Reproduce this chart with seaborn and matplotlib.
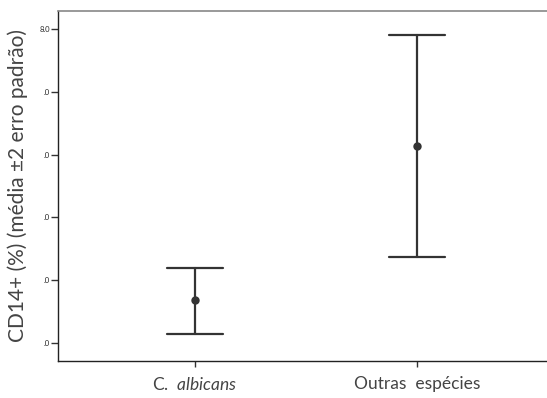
import matplotlib
matplotlib.use("Agg")
import matplotlib.pyplot as plt
import seaborn as sns
import pandas as pd
import numpy as np

categorias = ["C. albicans", "Outras espécies"]
medias = [3.69, 6.14]
limite_inferior = [3.14, 4.37]
limite_superior = [4.19, 7.90]
ytick_vals = [3.0, 4.0, 5.0, 6.0, 7.0, 8.0]
ytick_labels = [".0", ".0", ".0", ".0", ".0", "8.0"]

rows = []
for c, lo, m, hi in zip(categorias, limite_inferior, medias, limite_superior):
    for v in (lo, m, hi):
        rows.append({"grupo": c, "valor": v})
df = pd.DataFrame(rows)

sns.set_style("ticks")
plt.rcParams["font.family"] = ["Lato", "DejaVu Sans"]
plt.rcParams["mathtext.fontset"] = "custom"
plt.rcParams["mathtext.rm"] = "Lato"
plt.rcParams["mathtext.it"] = "Lato:italic"

fig = plt.figure(figsize=(5.47, 3.98), dpi=100)
ax = fig.add_axes([58/547, 37/398, 489/547, 350/398])

sns.pointplot(data=df, x="grupo", y="valor", estimator="median",
              errorbar=lambda v: (v.min(), v.max()),
              capsize=0.25, linestyle="none", color="#333333",
              markers="o", markersize=4, err_kws={"linewidth": 1.6},
              ax=ax)

ax.set_xlim(-0.617, 1.586)
ax.set_ylim(2.713, 8.287)
ax.set_yticks(ytick_vals)
ax.set_yticklabels(ytick_labels, fontsize=5.5)
ax.set_xticks([0, 1])
ax.set_xticklabels(["C.  $\\it{albicans}$", "Outras  espécies"], fontsize=12.5,
                   color="#444444")
ax.tick_params(axis="x", length=4, width=1, color="#333333", pad=7)
ax.tick_params(axis="y", length=5, width=1, color="#333333", pad=1)
ax.set_xlabel("")
ax.set_ylabel("CD14+ (%) (média ±2 erro padrão)", fontsize=15, color="#444444",
              labelpad=8)

for s in ["left", "bottom"]:
    ax.spines[s].set_color("#222222")
    ax.spines[s].set_linewidth(1.0)
ax.spines["top"].set_color("#888888")
ax.spines["top"].set_linewidth(1.2)
ax.spines["right"].set_visible(False)

fig.savefig("out.png", dpi=100)
